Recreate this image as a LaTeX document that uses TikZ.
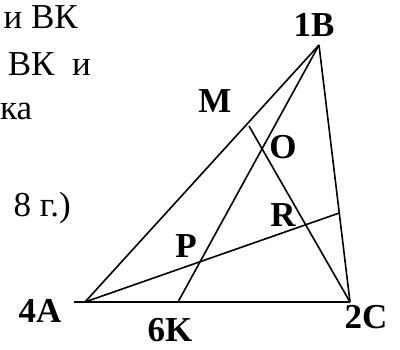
\documentclass[tikz,border=0pt]{standalone}
\usepackage{fontspec}
\setmainfont{Liberation Serif}
\begin{document}
\begin{tikzpicture}[x=1pt,y=-1pt,
  seg/.style={line width=1.6pt},
  lbl/.style={font=\fontsize{35}{40}\selectfont\bfseries, inner sep=0pt, anchor=base},
  txt/.style={font=\fontsize{35}{40}\selectfont, inner sep=0pt, anchor=base east}]
\useasboundingbox (0,0) rectangle (400,349);
\clip (0,0) rectangle (400,349);
% points
\coordinate (A) at (85,302);
\coordinate (B) at (319,45);
\coordinate (C) at (350,302);
\coordinate (K) at (178,302);
\coordinate (L) at (74,302);
\coordinate (Mend) at (249,126);
\coordinate (Q) at (339.3,213);
% segments
\draw[seg] (L) -- (C);
\draw[seg] (A) -- (B);
\draw[seg] (B) -- (C);
\draw[seg] (B) -- (K);
\draw[seg] (C) -- (Mend);
\draw[seg] (A) -- (Q);
% labels
\node[lbl] (lB) at (314,36) {1B};
\node[lbl] (lM) at (215,112) {M};
\node[lbl] (lO) at (283,158) {O};
\node[lbl] (lR) at (283,226) {R};
\node[lbl] (lP) at (186,257) {P};
\node[lbl] (lA) at (40,322) {4A};
\node[lbl] (lC) at (366,328) {2C};
\node[lbl] (lK) at (170,341) {6K};
% text fragments at left
\node[txt] (t1) at (78,28) {и ВК};
\node[txt] (t2) at (91,75) {ВК\ \ и};
\node[txt, anchor=base west] (t3) at (0,119) {ка};
\node[txt] (t4) at (71,216) {8 г.)};
\end{tikzpicture}
\end{document}
